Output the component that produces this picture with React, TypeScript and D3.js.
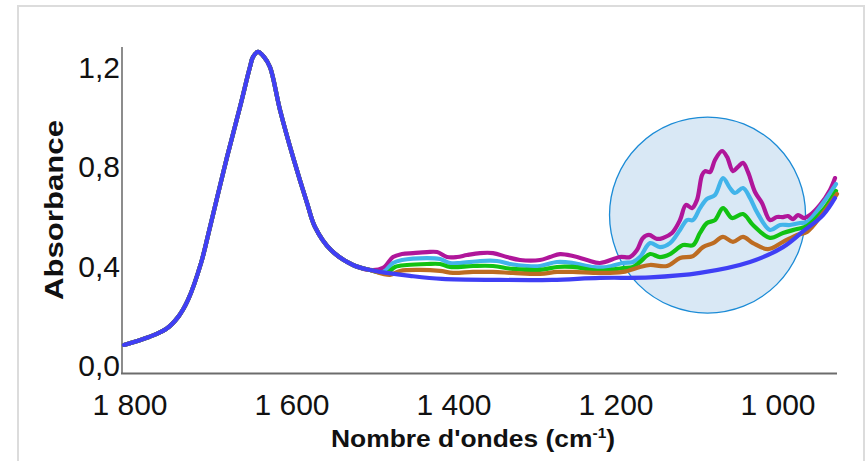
import React from "react";
import * as d3 from "d3";

// Shared part of all spectra (amide I band region), [wavenumber, absorbance]
const sharedBand: [number, number][] = [
  [1807.4, 0.117], [1776.5, 0.149], [1755.0, 0.182], [1740.0, 0.232], [1728.4, 0.298], [1712.3, 0.447],
  [1701.2, 0.592], [1680.2, 0.874], [1664.2, 1.075], [1651.9, 1.236], [1648.1, 1.277],
  [1642.0, 1.297], [1634.6, 1.277], [1627.2, 1.236], [1614.8, 1.063], [1598.8, 0.874],
  [1581.5, 0.689], [1571.6, 0.592], [1551.9, 0.499], [1524.7, 0.439], [1503.7, 0.419],
];

const magentaTail: [number, number][] = [
  [1487.7, 0.427], [1475.3, 0.471], [1464.2, 0.483], [1450.6, 0.487], [1433.3, 0.491],
  [1420.9, 0.491], [1408.6, 0.471], [1396.3, 0.471], [1384.0, 0.479], [1367.9, 0.487],
  [1351.9, 0.487], [1334.6, 0.471], [1318.5, 0.459], [1293.8, 0.459], [1281.5, 0.471],
  [1269.1, 0.483], [1253.1, 0.475], [1235.8, 0.459], [1219.8, 0.447], [1195.1, 0.471],
  [1182.7, 0.471], [1174.1, 0.499], [1166.7, 0.548], [1159.3, 0.560], [1149.4, 0.544],
  [1142.0, 0.548], [1130.9, 0.568], [1121.0, 0.620], [1113.6, 0.681], [1106.2, 0.668],
  [1100.0, 0.701], [1093.8, 0.801], [1090.1, 0.817], [1084.0, 0.813], [1077.8, 0.862],
  [1069.1, 0.898], [1062.9, 0.874], [1055.6, 0.817], [1049.4, 0.834], [1043.2, 0.850],
  [1037.0, 0.813], [1028.4, 0.733], [1019.8, 0.689], [1009.9, 0.620], [1001.2, 0.632],
  [993.8, 0.632], [987.7, 0.636], [981.5, 0.624], [975.3, 0.640], [967.9, 0.628],
  [960.5, 0.640], [948.1, 0.681], [935.8, 0.741], [929.6, 0.789],
];

const lightBlueTail: [number, number][] = [
  [1487.7, 0.411], [1475.3, 0.447], [1464.2, 0.459], [1433.3, 0.467], [1417.3, 0.463],
  [1404.9, 0.447], [1392.6, 0.447], [1367.9, 0.455], [1346.9, 0.455], [1330.9, 0.443],
  [1309.9, 0.435], [1293.8, 0.435], [1272.8, 0.451], [1253.1, 0.447], [1228.4, 0.431],
  [1211.1, 0.431], [1191.4, 0.447], [1179.0, 0.451], [1170.4, 0.471], [1158.0, 0.527],
  [1145.7, 0.511], [1133.3, 0.527], [1121.0, 0.580], [1112.3, 0.620], [1104.9, 0.620],
  [1096.3, 0.668], [1087.7, 0.705], [1077.8, 0.721], [1067.9, 0.789], [1059.3, 0.749],
  [1053.1, 0.729], [1043.2, 0.749], [1034.6, 0.709], [1026.0, 0.652], [1009.9, 0.580],
  [997.5, 0.600], [985.2, 0.600], [972.8, 0.608], [964.2, 0.612], [944.4, 0.689],
  [928.4, 0.765],
];

const greenTail: [number, number][] = [
  [1482.7, 0.407], [1472.8, 0.431], [1458.0, 0.439], [1433.3, 0.443], [1417.3, 0.443],
  [1404.9, 0.431], [1376.5, 0.435], [1351.9, 0.435], [1327.2, 0.423], [1293.8, 0.419],
  [1272.8, 0.431], [1253.1, 0.431], [1219.8, 0.415], [1191.4, 0.427], [1179.0, 0.431],
  [1170.4, 0.451], [1158.0, 0.483], [1145.7, 0.471], [1133.3, 0.483], [1117.3, 0.519],
  [1104.9, 0.519], [1096.3, 0.568], [1087.7, 0.608], [1077.8, 0.620], [1067.9, 0.668],
  [1056.8, 0.628], [1043.2, 0.644], [1030.9, 0.600], [1009.9, 0.548], [993.8, 0.568],
  [976.5, 0.584], [964.2, 0.596], [944.4, 0.660], [928.4, 0.737],
];

const brownTail: [number, number][] = [
  [1479.0, 0.399], [1466.7, 0.415], [1442.0, 0.419], [1417.3, 0.415], [1401.2, 0.407],
  [1376.5, 0.411], [1351.9, 0.411], [1327.2, 0.407], [1293.8, 0.403], [1272.8, 0.411],
  [1253.1, 0.411], [1219.8, 0.407], [1191.4, 0.411], [1170.4, 0.431], [1158.0, 0.439],
  [1137.0, 0.435], [1121.0, 0.467], [1104.9, 0.475], [1092.6, 0.511], [1080.2, 0.527],
  [1067.9, 0.552], [1055.6, 0.532], [1043.2, 0.552], [1030.9, 0.527], [1012.3, 0.503],
  [993.8, 0.532], [976.5, 0.560], [964.2, 0.572], [944.4, 0.648], [927.2, 0.725],
];

const blueTail: [number, number][] = [
  [1482.7, 0.407], [1454.3, 0.395], [1414.8, 0.383], [1346.9, 0.379], [1279.0, 0.379],
  [1219.8, 0.387], [1158.0, 0.389], [1096.3, 0.407], [1034.6, 0.451], [993.8, 0.511],
  [969.1, 0.574], [944.4, 0.640], [929.6, 0.709],
];

const seriesNames = ["magenta", "lightBlue", "green", "brown", "blue"];
const seriesColors = ["#b0169a", "#42b4ea", "#12c212", "#bd6c22", "#3f3ff5"];
const seriesTails = [magentaTail, lightBlueTail, greenTail, brownTail, blueTail];

const xTicks = [1800, 1600, 1400, 1200, 1000];
const xTickLabels = ["1 800", "1 600", "1 400", "1 200", "1 000"];
const yTicks = [0, 0.4, 0.8, 1.2];
const yTickLabels = ["0,0", "0,4", "0,8", "1,2"];

// highlight circle (data coords: center wavenumber, center absorbance)
const highlight = { wn: 1087, abs: 0.64 };

export default function App() {
  const W = 866;
  const H = 461;
  const x = d3.scaleLinear().domain([1800, 1000]).range([130, 778]);
  const y = d3.scaleLinear().domain([0, 1.2]).range([374, 76]);
  const line = d3
    .line<[number, number]>()
    .x((d) => x(d[0]))
    .y((d) => y(d[1]))
    .curve(d3.curveCatmullRom.alpha(0.5));

  const font = "'Liberation Sans', Arial, Helvetica, sans-serif";

  return (
    <div style={{ position: "fixed", left: 0, top: 0, width: W, height: H, background: "#fff" }}>
      <svg width={W} height={H} style={{ display: "block" }}>
        <rect x={0} y={0} width={W} height={H} fill="#fff" />
        <rect x={18} y={6} width={846} height={480} fill="none" stroke="#dcdcdc" strokeWidth={2} />

        {/* highlight circle */}
        <circle cx={x(highlight.wn)} cy={y(highlight.abs)} r={98} fill="#d9e8f5" stroke="#1b8bd6" strokeWidth={1.3} />

        {/* axes */}
        <line x1={122} x2={122} y1={47} y2={374} stroke="#707070" strokeWidth={1.6} />
        <line x1={121} x2={837} y1={373.5} y2={373.5} stroke="#6c6c6c" strokeWidth={2} />

        {/* spectra */}
        {seriesTails.map((tail, i) => (
          <path
            key={seriesNames[i]}
            d={line([...sharedBand, ...tail]) || ""}
            fill="none"
            stroke={seriesColors[i]}
            strokeWidth={4.2}
            strokeLinejoin="round"
            strokeLinecap="round"
          />
        ))}

        {/* y tick labels */}
        {yTicks.map((t, i) => (
          <text key={t} x={120} y={y(t) + 2} textAnchor="end" fontFamily={font} fontSize={30} fill="#111">
            {yTickLabels[i]}
          </text>
        ))}

        {/* x tick labels */}
        {xTicks.map((t, i) => (
          <text key={t} x={x(t)} y={415} textAnchor="middle" fontFamily={font} fontSize={30} fill="#111">
            {xTickLabels[i]}
          </text>
        ))}

        {/* axis titles */}
        <text
          x={473}
          y={447}
          textAnchor="middle"
          fontFamily={font}
          fontWeight="bold"
          fontSize={24}
          fill="#111"
          textLength={284}
          lengthAdjust="spacingAndGlyphs"
        >
          Nombre d'ondes (cm<tspan dy={-9} fontSize={14}>-1</tspan><tspan dy={9}>)</tspan>
        </text>
        <text
          transform="translate(63,210) rotate(-90)"
          textAnchor="middle"
          fontFamily={font}
          fontWeight="bold"
          fontSize={26}
          fill="#111"
          textLength={180}
          lengthAdjust="spacingAndGlyphs"
        >
          Absorbance
        </text>
      </svg>
    </div>
  );
}
